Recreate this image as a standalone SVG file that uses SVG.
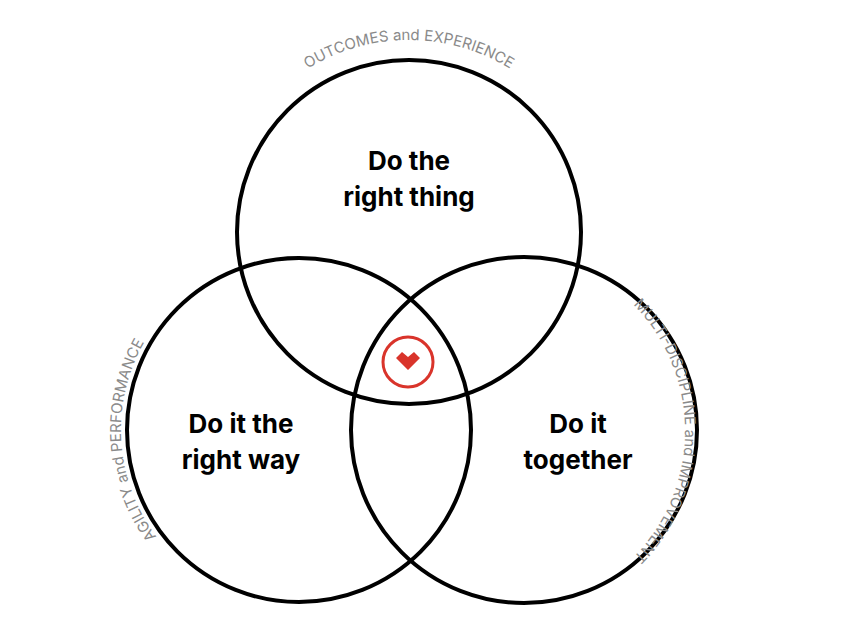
<svg xmlns="http://www.w3.org/2000/svg" width="850" height="625" viewBox="0 0 850 625">
<style>
.c{fill:none;stroke:#000;stroke-width:4}
.t{font-family:Inter,"Liberation Sans",sans-serif;font-weight:700;font-size:26px;fill:#000;text-anchor:middle}
.a{font-family:Inter,"Liberation Sans",sans-serif;font-size:15px;fill:#8a8a8a;text-anchor:middle}
</style>
<defs>
<path id="pt" d="M 217 232 A 192 192 0 0 1 601 232"/>
<path id="pl" d="M 299 608 A 178 178 0 0 1 299 252"/>
<path id="pr" d="M 524 252 A 180 180 0 0 1 524 610"/>
</defs>
<rect width="850" height="625" fill="#fff"/>
<g id="top"><circle class="c" cx="409" cy="232" r="172"/><text class="t" x="409" y="170">Do the</text><text class="t" x="409" y="206">right thing</text></g>
<g id="left"><circle class="c" cx="299" cy="430" r="172"/><text class="t" x="241" y="433">Do it the</text><text class="t" x="241" y="469">right way</text></g>
<g id="right"><circle class="c" cx="524" cy="430" r="173"/><text class="t" x="578" y="433">Do it</text><text class="t" x="578" y="469">together</text></g>
<g id="heart"><circle cx="408" cy="362" r="25" fill="none" stroke="#d9342b" stroke-width="3"/><path d="M396 358 L402 352 L408 357 L414 352 L420 358 L408 370 Z" fill="#d9342b"/></g>
<g id="labels">
<text class="a"><textPath href="#pt" startOffset="50%">OUTCOMES and EXPERIENCE</textPath></text>
<text class="a"><textPath href="#pl" startOffset="48%">AGILITY and PERFORMANCE</textPath></text>
<text class="a"><textPath href="#pr" startOffset="50%">MULTI-DISCIPLINE and IMPROVEMENT</textPath></text>
</g>
<g id="connectors"/>
</svg>
